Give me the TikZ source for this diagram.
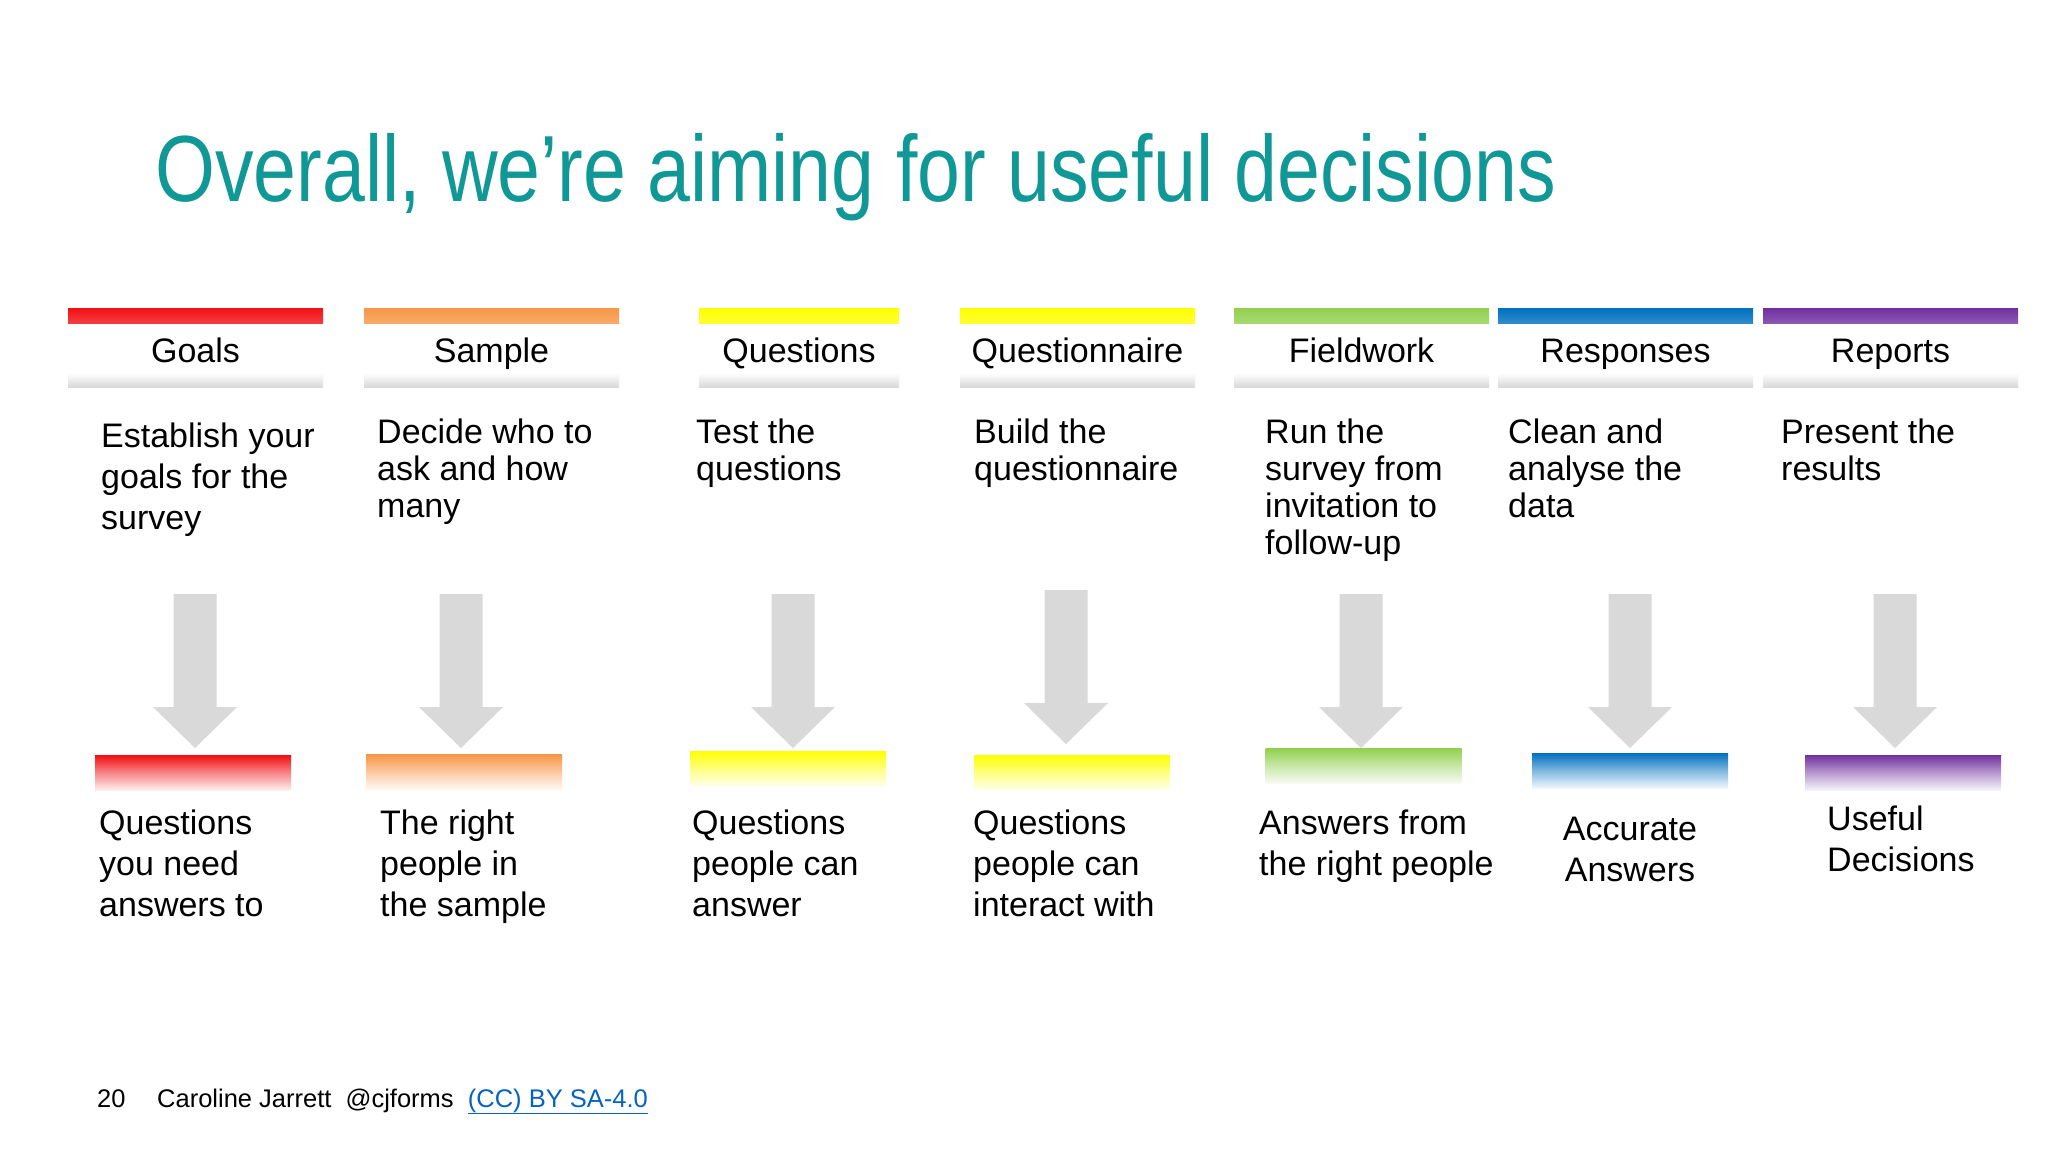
\documentclass[tikz,border=0pt]{standalone}
\usepackage{fontspec}
\setmainfont{Liberation Sans}
\newfontfamily\titlefam[FakeStretch=0.82]{Liberation Sans}
\usepackage{xcolor}

\definecolor{titleteal}{RGB}{16,152,150}
\definecolor{goalred}{RGB}{242,16,20}
\definecolor{sampleorange}{RGB}{247,150,70}
\definecolor{qyellow}{RGB}{255,255,0}
\definecolor{fieldgreen}{RGB}{146,208,80}
\definecolor{respblue}{RGB}{0,112,192}
\definecolor{reppurple}{RGB}{112,48,160}
\definecolor{arrowgray}{RGB}{217,217,217}
\definecolor{linkblue}{RGB}{5,99,193}

\newcommand{\hdrfont}{\fontsize{34}{37}\selectfont}
\newcommand{\descfont}{\fontsize{34}{37}\selectfont}
\newcommand{\outfont}{\fontsize{34}{41}\selectfont}

\tikzset{
  every node/.style={inner sep=0pt},
  hdrbox/.style={minimum height=79pt, text height=29pt, text depth=0pt, font=\hdrfont,
    path picture={
      \shade[top color=#1, middle color=#1!35!white, bottom color=white]
        (path picture bounding box.north west) rectangle ([yshift=-15pt]path picture bounding box.north east);
      \shade[top color=white, bottom color=black!15]
        ([yshift=14pt]path picture bounding box.south west) rectangle (path picture bounding box.south east);
    }},
  resbar/.style={minimum width=196pt, minimum height=35pt,
    top color=#1, bottom color=#1!6!white, middle color=#1!50!white},
  desc/.style={anchor=north west, align=left, font=\descfont},
  outcome/.style={anchor=north west, align=left, font=\outfont}
}

\begin{document}
\begin{tikzpicture}[x=1pt, y=-1pt]
\fill[white] (0,0) rectangle (2048,1152);
\useasboundingbox (0,0) rectangle (2048,1152);

% title
\node[anchor=base west, font=\titlefam\fontsize{94}{100}\selectfont, text=titleteal] (title) at (155,201) {Overall, we’re aiming for useful decisions};

% stage headers
\foreach \n/\x/\w/\c/\t in {goals/195.5/255/goalred/Goals, sample/491.5/255/sampleorange/Sample,
  questions/799/200/qyellow/Questions, questionnaire/1077.5/235/qyellow/Questionnaire,
  fieldwork/1361.5/255/fieldgreen/Fieldwork, responses/1625.5/255/respblue/Responses,
  reports/1890.5/255/reppurple/Reports}
  \node[hdrbox=\c, minimum width=\w pt] (\n) at (\x,347.5) {\t};

% what to do
\node[desc, font=\outfont] (goalsdesc) at (101,423) {Establish your\\goals for the\\survey};
\node[desc] (sampledesc) at (377,419) {Decide who to\\ask and how\\many};
\node[desc] (questionsdesc) at (696,419) {Test the\\questions};
\node[desc] (questionnairedesc) at (974,419) {Build the\\questionnaire};
\node[desc] (fieldworkdesc) at (1265,419) {Run the\\survey from\\invitation to\\follow-up};
\node[desc] (responsesdesc) at (1508,419) {Clean and\\analyse the\\data};
\node[desc] (reportsdesc) at (1781,419) {Present the\\results};

% result bars
\foreach \i/\x/\y/\c in {1/193/773/goalred, 2/464/772/sampleorange, 3/788/768.5/qyellow,
  4/1072/772.5/qyellow, 5/1363.5/766/fieldgreen, 6/1630/770.5/respblue, 7/1903/772.5/reppurple}
  \node[resbar=\c] (bar\i) at (\x,\y) {};

% big grey arrows
\foreach \i/\x/\t in {1/195/594, 2/461/594, 3/793/594, 4/1066/590, 5/1361/594, 6/1630/594, 7/1895/594} {
  \coordinate (a\i) at (\x,\t);
  \fill[arrowgray] (a\i) ++(-21.5,0) -- ++(43,0) -- ++(0,113) -- ++(20.5,0)
    -- ++(-42,41) -- ++(-42,-41) -- ++(20.5,0) -- cycle;
}

% outcomes
\node[outcome] (out1) at (99,810) {Questions\\you need\\answers to};
\node[outcome] (out2) at (380,810) {The right\\people in\\the sample};
\node[outcome] (out3) at (692,810) {Questions\\people can\\answer};
\node[outcome] (out4) at (973,810) {Questions\\people can\\interact with};
\node[outcome] (out5) at (1259,810) {Answers from\\the right people};
\node[outcome, anchor=north, align=center] (out6) at (1630,817) {Accurate\\Answers};
\node[outcome] (out7) at (1827,806) {Useful\\Decisions};

% footer
\node[anchor=base west, font=\fontsize{25.5}{28}\selectfont] (pagenum) at (97,1107) {20};
\node[anchor=base west, font=\fontsize{25.5}{28}\selectfont] (credit) at (157,1107)
  {Caroline Jarrett~~@cjforms~~\textcolor{linkblue}{\underline{(CC) BY SA-4.0}}};
\end{tikzpicture}
\end{document}
